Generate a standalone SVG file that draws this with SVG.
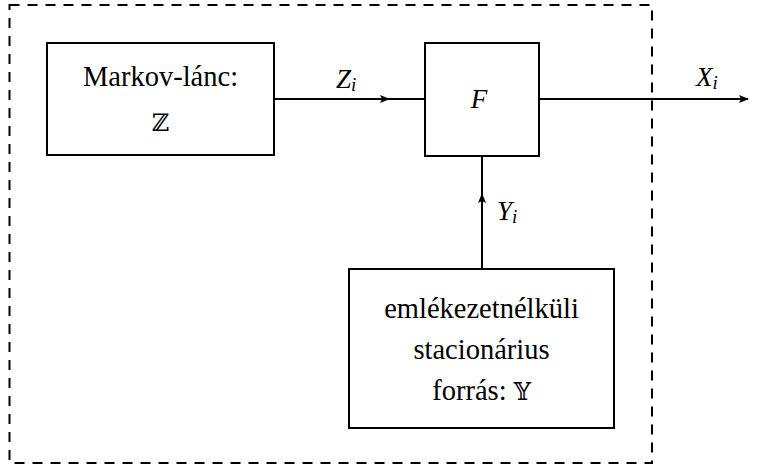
<svg xmlns="http://www.w3.org/2000/svg" width="757" height="470" viewBox="0 0 757 470">
  <defs>
    <marker id="arrow" markerWidth="10" markerHeight="8" refX="9" refY="4" orient="auto" markerUnits="userSpaceOnUse">
      <path d="M0,0 L10,4 L0,8 L2,4 Z" fill="#000"/>
    </marker>
    <style>
      .box { fill: #fff; stroke: #000; stroke-width: 2; }
      .frame { fill: none; stroke: #000; stroke-width: 2; stroke-dasharray: 10 8; }
      .wire { fill: none; stroke: #000; stroke-width: 2; }
      .txt { font-family: "Liberation Serif", "Times New Roman", serif; font-size: 28.5px; fill: #000; }
      .math { font-family: "Liberation Serif", "Times New Roman", serif; font-style: italic; font-size: 27px; fill: #000; }
      .sub { font-size: 19px; }
      .bb { font-family: "DejaVu Serif", "DejaVu Sans", serif; font-size: 24px; font-weight: 200; }
    </style>
  </defs>

  <!-- enclosing system boundary -->
  <rect class="frame" x="9.5" y="5" width="642.5" height="458"/>

  <!-- connectors -->
  <g id="connectors">
    <line class="wire" x1="274" y1="99" x2="389" y2="99" marker-end="url(#arrow)"/>
    <line class="wire" x1="385" y1="99" x2="425" y2="99"/>
    <line class="wire" x1="539" y1="99" x2="748" y2="99" marker-end="url(#arrow)"/>
    <line class="wire" x1="482" y1="269" x2="482" y2="194" marker-end="url(#arrow)"/>
    <line class="wire" x1="482" y1="198" x2="482" y2="156"/>
    <text class="math" x="336" y="88">Z<tspan class="sub" dy="3">i</tspan></text>
    <text class="math" x="696" y="86">X<tspan class="sub" dy="3">i</tspan></text>
    <text class="math" x="497" y="220">Y<tspan class="sub" dy="3">i</tspan></text>
  </g>

  <!-- Markov chain source -->
  <g id="markov">
    <rect class="box" x="47" y="43" width="227" height="112"/>
    <text class="txt" x="160.5" y="86" text-anchor="middle">Markov-lánc:</text>
    <text class="txt bb" x="160.5" y="131" text-anchor="middle">ℤ</text>
  </g>

  <!-- combining function -->
  <g id="func">
    <rect class="box" x="425" y="43" width="114" height="113"/>
    <text class="math" x="479" y="108" text-anchor="middle">F</text>
  </g>

  <!-- memoryless stationary source -->
  <g id="memoryless">
    <rect class="box" x="349" y="269" width="265" height="159"/>
    <text class="txt" x="481.5" y="318" text-anchor="middle">emlékezetnélküli</text>
    <text class="txt" x="481.5" y="359" text-anchor="middle">stacionárius</text>
    <text class="txt" x="481.5" y="400" text-anchor="middle">forrás: <tspan class="bb">𝕐</tspan></text>
  </g>
</svg>
